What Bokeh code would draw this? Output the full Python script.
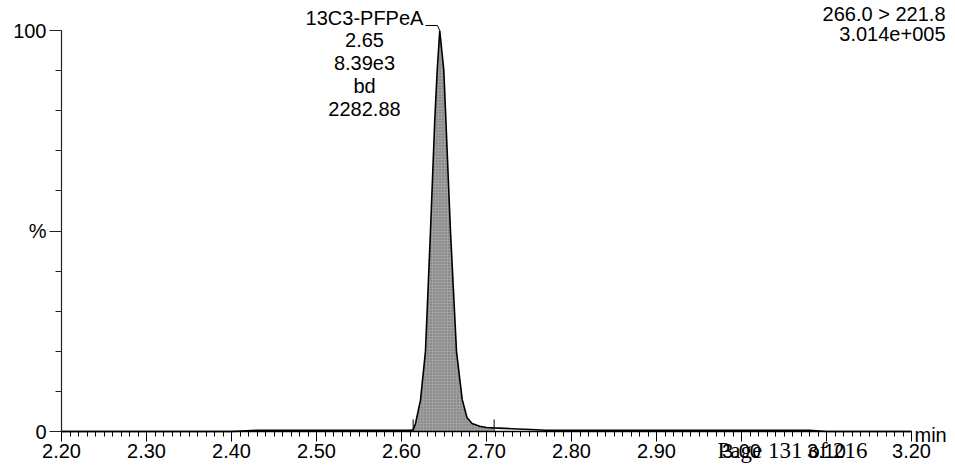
import numpy as np
from bokeh.plotting import figure
from bokeh.models import Range1d, FixedTicker, Label, PrintfTickFormatter
from bokeh.embed import file_html
from bokeh.resources import INLINE

# ---------------- data ----------------
rt_min = [2.200, 2.300, 2.400, 2.430, 2.500, 2.560, 2.600, 2.6100, 2.6137,
          2.6165, 2.6224, 2.6282, 2.6341, 2.6392, 2.6420, 2.6450, 2.6498,
          2.6576, 2.6647, 2.6714, 2.6770, 2.6830, 2.6920, 2.7000, 2.7080,
          2.7300, 2.7520, 2.7700, 2.8300, 2.9000, 3.0000, 3.0800, 3.1000, 3.2000]
intensity_pct = [0.0, 0.0, 0.0, 0.3, 0.3, 0.3, 0.3, 0.3, 0.4,
                 2.0, 7.9, 20.0, 50.0, 78.0, 90.0, 100.0, 90.0,
                 50.0, 20.0, 8.0, 3.5, 2.0, 1.3, 1.0, 0.9,
                 0.7, 0.5, 0.3, 0.3, 0.3, 0.3, 0.3, 0.0, 0.0]

peak_start_rt = 2.6137
peak_end_rt = 2.709

x_tick_values = [2.20, 2.30, 2.40, 2.50, 2.60, 2.70, 2.80, 2.90, 3.00, 3.10, 3.20]
x_minor_values = [round(2.20 + 0.01 * i, 2) for i in range(101)]
y_tick_values = [0, 50, 100]
y_tick_labels = ["0", "%", "100"]
y_minor_values = [0, 10, 20, 30, 40, 50, 60, 70, 80, 90, 100]

peak_label_lines = ["13C3-PFPeA", "2.65", "8.39e3", "bd", "2282.88"]
transition_text = "266.0 > 221.8"
max_intensity_text = "3.014e+005"
x_unit_text = "min"
footer_text = "Page 131 of 216"

# ---------------- layout (pixel anchors) ----------------
W, H = 947, 463
X_AX0, X_AX1 = 2.20, 3.20
PX_X0 = 61          # pixel of 2.20
PX_PER_MIN = 850.0  # pixels per minute
PX_Y0 = 431         # pixel of 0 %
PX_Y100 = 30        # pixel of 100 %
PX_PER_PCT = (PX_Y0 - PX_Y100) / 100.0


def dx(px):
    return X_AX0 + (px - PX_X0) / PX_PER_MIN


def dy(py):
    return (PX_Y0 - py) / PX_PER_PCT


SANS = "Liberation Sans"
SERIF = "Liberation Serif"
FS = "20px"

p = figure(width=W, height=H, output_backend="svg", toolbar_location=None,
           x_range=Range1d(dx(0), dx(W)), y_range=Range1d(dy(H), dy(0)),
           min_border=0)
p.outline_line_color = None
p.xgrid.grid_line_color = None
p.ygrid.grid_line_color = None
p.background_fill_color = "white"
p.border_fill_color = "white"

# x axis
xa = p.xaxis[0]
xa.fixed_location = 0
xa.ticker = FixedTicker(ticks=x_tick_values, minor_ticks=x_minor_values)
xa.formatter = PrintfTickFormatter(format="%.2f")
xa.bounds = (X_AX0, X_AX1)
xa.axis_line_color = "black"
xa.axis_line_width = 1.5
xa.major_tick_in = 0
xa.major_tick_out = 10
xa.minor_tick_in = 0
xa.minor_tick_out = 5
xa.major_tick_line_color = "black"
xa.minor_tick_line_color = "black"
xa.major_label_text_font = SANS
xa.major_label_text_font_size = FS
xa.major_label_text_color = "black"
xa.major_label_standoff = 2

# y axis
ya = p.yaxis[0]
ya.fixed_location = X_AX0
ya.ticker = FixedTicker(ticks=y_tick_values, minor_ticks=y_minor_values)
ya.major_label_overrides = {t: l for t, l in zip(y_tick_values, y_tick_labels)}
ya.bounds = (0, 100)
ya.axis_line_color = "#222222"
ya.axis_line_width = 1.2
ya.major_tick_in = 0
ya.major_tick_out = 12
ya.minor_tick_in = 0
ya.minor_tick_out = 6
ya.major_tick_line_color = "#222222"
ya.minor_tick_line_color = "#222222"
ya.major_label_text_font = SANS
ya.major_label_text_font_size = FS
ya.major_label_text_color = "black"
ya.major_label_standoff = 3

# peak fill
rt_arr = np.array(rt_min)
it_arr = np.array(intensity_pct)
mask = (rt_arr >= peak_start_rt) & (rt_arr <= peak_end_rt)
p.varea(x=rt_arr[mask], y1=np.zeros(mask.sum()), y2=it_arr[mask],
        fill_color="#a0a0a0", hatch_pattern="dot", hatch_color="#444444",
        hatch_scale=3, hatch_weight=1, hatch_alpha=0.6)

# trace
p.line(rt_min, intensity_pct, line_color="black", line_width=1.6)

# integration markers
p.segment(x0=[peak_start_rt, peak_end_rt], y0=[0, 0],
          x1=[peak_start_rt, peak_end_rt], y1=[3, 3],
          line_color="black", line_width=1)

# peak label and its leader
apex_i = int(np.argmax(it_arr))
apex_rt, apex_y = rt_arr[apex_i], it_arr[apex_i]
p.line(x=[dx(425), dx(437), apex_rt], y=[dy(25), dy(25), apex_y],
       line_color="black", line_width=1)
for i, t in enumerate(peak_label_lines):
    p.add_layout(Label(x=dx(364), y=dy(17 + 22.8 * i), text=t,
                       text_align="center", text_baseline="middle",
                       text_font=SANS, text_font_size=FS,
                       text_color="black"))

# header texts (top right)
p.add_layout(Label(x=dx(945), y=dy(13), text=transition_text,
                   text_align="right", text_baseline="middle",
                   text_font=SANS, text_font_size=FS, text_color="black"))
p.add_layout(Label(x=dx(945), y=dy(33), text=max_intensity_text,
                   text_align="right", text_baseline="middle",
                   text_font=SANS, text_font_size=FS, text_color="black"))

# unit at the end of the x axis
p.add_layout(Label(x=dx(914), y=dy(434), text=x_unit_text,
                   text_align="left", text_baseline="alphabetic",
                   text_font=SANS, text_font_size=FS, text_color="black"))

# page footer (overprinted in the reference)
p.add_layout(Label(x=dx(717), y=dy(450), text=footer_text,
                   text_align="left", text_baseline="middle",
                   text_font=SERIF, text_font_size="23px", text_color="black"))

open("out.html", "w").write(file_html(p, INLINE))
